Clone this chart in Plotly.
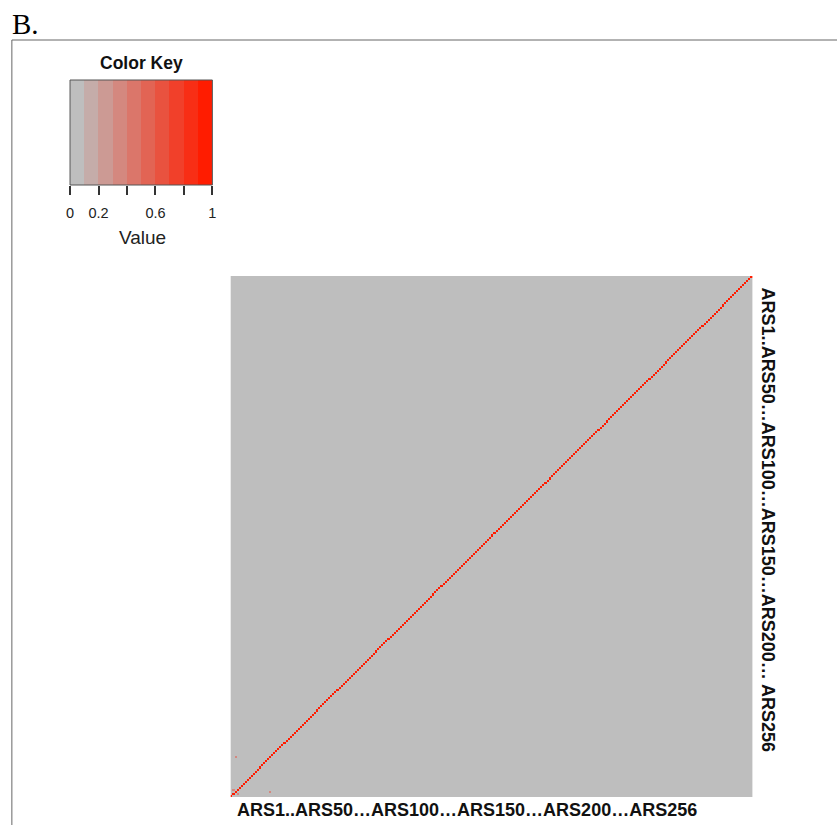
import plotly.graph_objects as go

# ---- data -------------------------------------------------------------
n_ars = 256                      # ARS1 ... ARS256
diag_value = 1.0                 # each ARS against itself
# sparse off-diagonal similarities: (column, row, value), mirrored
off_diag = [(2, 19, 0.3), (1, 3, 0.35)]

key_ticks = [0, 0.2, 0.4, 0.6, 0.8, 1]
key_ticktext = ["0", "0.2", "", "0.6", "", "1"]
key_bins = [0.05, 0.15, 0.25, 0.35, 0.45, 0.55, 0.65, 0.75, 0.85, 0.95]

x_label = "ARS1..ARS50\u2026ARS100\u2026ARS150\u2026ARS200\u2026ARS256"
y_label = "ARS1..ARS50\u2026ARS100\u2026ARS150\u2026ARS200\u2026 ARS256"

# ---- matrix -----------------------------------------------------------
z = [[0.0] * n_ars for _ in range(n_ars)]
for i in range(n_ars):
    z[i][i] = diag_value
for c, r, v in off_diag:
    z[r][c] = v
    z[c][r] = v

# ---- grey -> red palette in 10 steps, stepped colourscale -------------
def ramp(k, n=10):
    t = k / (n - 1)
    r = round(190 + (255 - 190) * t)
    g = round(190 * (1 - t) + 28 * t)
    b = round(190 * (1 - t))
    return f"rgb({r},{g},{b})"

palette = [ramp(k) for k in range(10)]
colorscale = []
for k, col in enumerate(palette):
    colorscale.append([k / 10, col])
    colorscale.append([(k + 1) / 10, col])

W, H = 837, 825
def px(x):
    return ((x - 4.15) / 0.9878) / W
def py(y):
    return 1 - y / H

fig = go.Figure()

fig.add_trace(go.Heatmap(
    z=z, colorscale=colorscale, zmin=0, zmax=1, showscale=False,
    xaxis="x", yaxis="y", hoverinfo="skip",
))

fig.add_trace(go.Heatmap(
    z=[key_bins], x=key_bins, y=[0.5], colorscale=colorscale, zmin=0, zmax=1,
    showscale=False, xaxis="x2", yaxis="y2", hoverinfo="skip",
))

font_main = "Liberation Sans, Arial, sans-serif"

fig.update_layout(
    width=W, height=H,
    margin=dict(l=0, r=0, t=0, b=0),
    paper_bgcolor="white", plot_bgcolor="white",
    showlegend=False,
    xaxis=dict(domain=[px(230), px(751)], range=[-0.5, n_ars - 0.5],
               showticklabels=False, ticks="", showgrid=False,
               zeroline=False, showline=False, fixedrange=True),
    yaxis=dict(domain=[py(797), py(276)], range=[-0.5, n_ars - 0.5],
               showticklabels=False, ticks="", showgrid=False,
               zeroline=False, showline=False, fixedrange=True),
    xaxis2=dict(domain=[px(70), px(212)], range=[0, 1], anchor="y2",
                tickvals=key_ticks, ticktext=key_ticktext,
                ticks="outside", ticklen=9, tickcolor="#333", tickwidth=1.5,
                ticklabelstandoff=6,
                tickfont=dict(family=font_main, size=14.5, color="#222"),
                showgrid=False, zeroline=False, showline=False),
    yaxis2=dict(domain=[py(185), py(80)], range=[0, 1], anchor="x2",
                showticklabels=False, ticks="", showgrid=False,
                zeroline=False, showline=False),
    shapes=[
        dict(type="rect", xref="paper", yref="paper",
             x0=px(12), x1=1.02, y0=-0.02, y1=py(40),
             line=dict(color="#666", width=1), layer="below"),
        dict(type="rect", xref="x2 domain", yref="y2 domain",
             x0=0, x1=1, y0=0, y1=1, line=dict(color="#555", width=1)),
    ],
    annotations=[
        dict(text="B.", xref="paper", yref="paper", x=px(10), y=py(6),
             xanchor="left", yanchor="top", showarrow=False,
             font=dict(family="Liberation Serif, Times New Roman, serif",
                       size=29, color="black")),
        dict(text="<b>Color Key</b>", xref="paper", yref="paper",
             x=px(141), y=py(63), xanchor="center", yanchor="middle",
             showarrow=False, font=dict(family=font_main, size=17.5, color="#111")),
        dict(text="Value", xref="paper", yref="paper",
             x=px(142), y=py(237), xanchor="center", yanchor="middle",
             showarrow=False, font=dict(family=font_main, size=19, color="#222")),
        dict(text=f"<b>{x_label}</b>", xref="paper", yref="paper",
             x=px(465.5), y=py(810), xanchor="center", yanchor="middle",
             showarrow=False, font=dict(family=font_main, size=18, color="#111")),
        dict(text=f"<b>{y_label}</b>", xref="paper", yref="paper",
             x=px(767), y=py(520.5), xanchor="center", yanchor="middle",
             textangle=90, showarrow=False,
             font=dict(family=font_main, size=18, color="#111")),
    ],
)

fig.write_html("out.html")
